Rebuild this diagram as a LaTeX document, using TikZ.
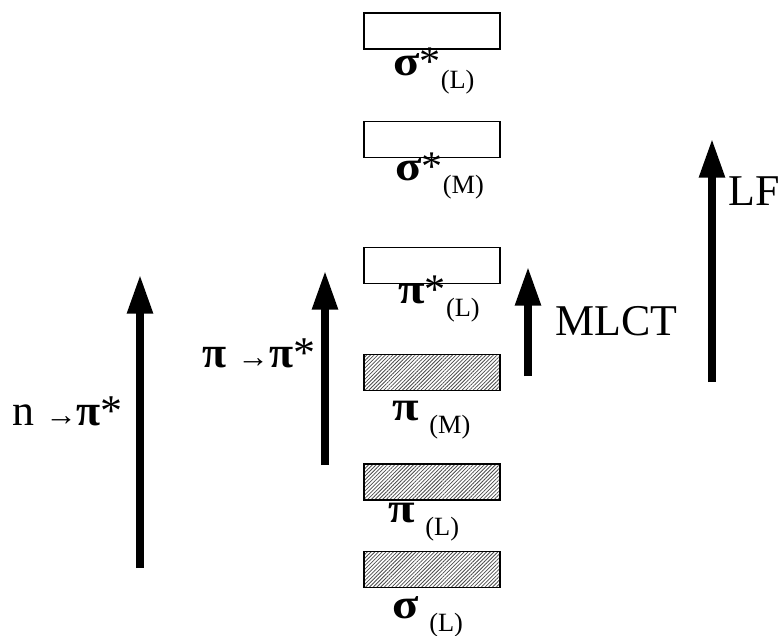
\documentclass[tikz,border=0pt]{standalone}
\usepackage{fontspec}
\setmainfont{Liberation Serif}
\usetikzlibrary{arrows.meta, patterns.meta}
\newcommand{\nivelsub}[1]{\raisebox{-7.5pt}{\fontsize{15}{17}\selectfont #1}}
\newcommand{\gr}[1]{\scalebox{1.15}[1]{\bfseries #1}}

\begin{document}
\begin{tikzpicture}[x=0.02cm, y=-0.02cm,
    nivel/.style={draw, line width=0.9pt, minimum width=2.72cm, minimum height=0.72cm, inner sep=0pt, outer sep=0pt},
    vazio/.style={nivel, fill=white},
    cheio/.style={nivel, preaction={fill=white}, pattern={Lines[angle=45, distance=1.5pt, line width=0.45pt]}, pattern color=black!70},
    rotulo/.style={font=\fontsize{24}{26}\selectfont, anchor=base west, inner sep=0pt},
    trans/.style={line width=4pt, -{Triangle[length=22pt, width=14pt]}},
    trlabel/.style={font=\fontsize{25}{28}\selectfont, anchor=base west, inner sep=0pt}]
  \useasboundingbox (0,0) rectangle (782,636);
  % niveis vazios
  \node[vazio] (sigmaLs) at (432,31) {};
  \node[rotulo] (lsigmaLs) at (393,75) {\gr{σ}*\nivelsub{(L)}};
  \node[vazio] (sigmaMs) at (432,139.5) {};
  \node[rotulo] (lsigmaMs) at (395,180) {\gr{σ}*\nivelsub{(M)}};
  \node[vazio] (piLs) at (432,265.5) {};
  \node[rotulo] (lpiLs) at (398,303) {\gr{π}*\nivelsub{(L)}};
  % niveis ocupados
  \node[cheio] (piM) at (432,372.5) {};
  \node[rotulo] (lpiM) at (392,420) {\gr{π} \nivelsub{(M)}};
  \node[cheio] (piL) at (432,482) {};
  \node[rotulo] (lpiL) at (388,522) {\gr{π} \nivelsub{(L)}};
  \node[cheio] (sigmaL) at (432,569.5) {};
  \node[rotulo] (lsigmaL) at (392,618) {\gr{σ} \nivelsub{(L)}};
  % transicoes
  \draw[trans] (140,568) -- (140,275);
  \node[trlabel] (lnpi) at (12,425) {n {\fontsize{18}{20}\selectfont→}{\bfseries π}*};
  \draw[trans] (325,465) -- (325,271);
  \node[trlabel] (lpipi) at (202,367) {{\bfseries π} {\fontsize{18}{20}\selectfont→}{\bfseries π}*};
  \draw[trans] (528,376) -- (528,267);
  \node[trlabel] (lmlct) at (555,335) {MLCT};
  \draw[trans] (712,382) -- (712,139);
  \node[trlabel] (llf) at (728,205) {LF};
\end{tikzpicture}
\end{document}
